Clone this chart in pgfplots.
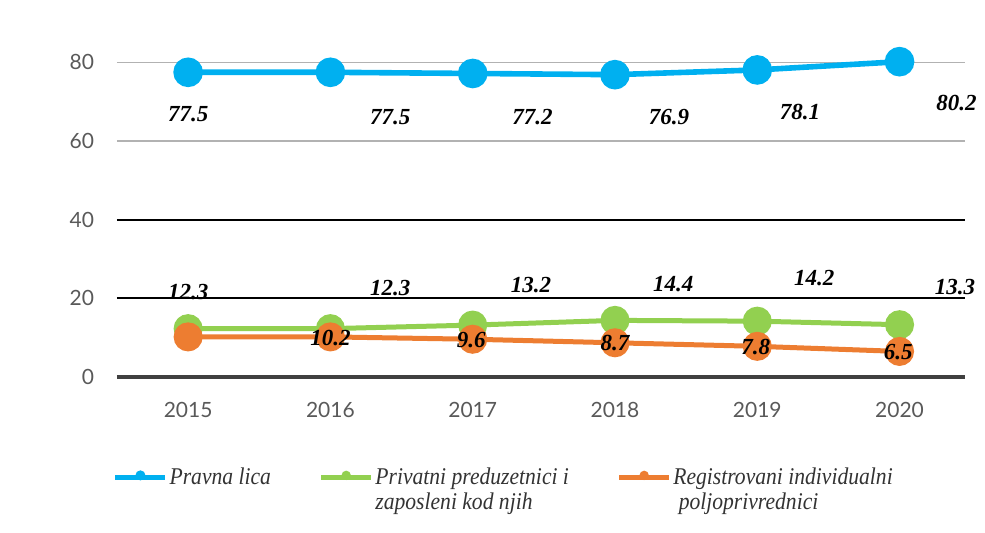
\documentclass[border=0pt]{standalone}
\usepackage{fontspec}
\usepackage{pgfplots}
\pgfplotsset{compat=1.18}
\newfontfamily\lato{Lato}
\newfontfamily\lserif{Liberation Serif}
\newfontfamily\legfont[FakeStretch=0.9]{Liberation Serif}
\definecolor{cblue}{HTML}{00B0F0}
\definecolor{cgreen}{HTML}{92D050}
\definecolor{corange}{HTML}{ED7D31}
\definecolor{tickgray}{HTML}{595959}

\begin{document}
\begin{tikzpicture}
\begin{axis}[
  scale only axis,
  width=424pt, height=173pt,
  xmin=-0.5, xmax=5.46,
  ymin=0, ymax=88,
  axis x line*=bottom,
  axis y line*=left,
  y axis line style={draw=none},
  x axis line style={-, line width=2pt, color=black!75},
  xtick={0,1,2,3,4,5},
  xticklabels={2015,2016,2017,2018,2019,2020},
  ytick={0,60,80},
  extra y ticks={20,40},
  extra y tick style={grid style={black, line width=1pt}},
  ymajorgrids,
  grid style={black!30, line width=0.8pt},
  major tick length=0pt,
  /pgf/number format/assume math mode=true,
  tick label style={font=\lato\fontsize{10.5}{12}\selectfont, text=tickgray},
  xticklabel style={yshift=-9pt},
  yticklabel style={xshift=-8pt},
  clip=false,
  legend style={at={(-0.012,-0.238)}, anchor=north west, draw=none, legend columns=3,
    font=\legfont\itshape\fontsize{12}{12.5}\selectfont, text=black!80,
    cells={align=left},
    /tikz/every odd column/.append style={column sep=-1pt},
    /tikz/every even column/.append style={column sep=22pt}},
  legend image code/.code={
    \path[draw=none, fill=none] (0pt,-6.25pt) -- (0pt,6.25pt);
    \draw[line width=2.2pt] (0pt,6.25pt) -- (25pt,6.25pt);
    \fill (12.5pt,7.35pt) circle (1pt);},
]
\addplot[cblue, line width=2.8pt, mark=*, mark size=6pt] coordinates {
  (0,77.5) (1,77.5) (2,77.2) (3,76.9) (4,78.1) (5,80.2)};
\addlegendentry{Pravna lica\\\strut}
\addplot[cgreen, line width=2.5pt, mark=*, mark size=6pt] coordinates {
  (0,12.3) (1,12.3) (2,13.2) (3,14.4) (4,14.2) (5,13.3)};
\addlegendentry{Privatni preduzetnici i\\zaposleni kod njih}
\addplot[corange, line width=2.5pt, mark=*, mark size=6pt] coordinates {
  (0,10.2) (1,10.2) (2,9.6) (3,8.7) (4,7.8) (5,6.5)};
\addlegendentry{Registrovani individualni\\\ poljoprivrednici}
% data labels, placed where the reference shows them
\pgfplotsset{lbl/.style={draw=none, mark=none, forget plot,
  nodes near coords, point meta=explicit symbolic,
  nodes near coords style={anchor=center, text=black,
    font=\lserif\bfseries\itshape\fontsize{11.5}{12}\selectfont}}}
\addplot[lbl] coordinates {
  (0.00,66.8) [77.5] (1.42,66.2) [77.5] (2.42,66.2) [77.2]
  (3.38,66.2) [76.9] (4.30,67.5) [78.1] (5.40,69.8) [80.2]};
\addplot[lbl] coordinates {
  (0.00,21.5) [12.3] (1.42,22.7) [12.3] (2.41,23.4) [13.2]
  (3.41,23.7) [14.4] (4.40,25.2) [14.2] (5.39,22.9) [13.3]};
\addplot[lbl] coordinates {
  (1.00,9.9) [10.2] (1.99,9.4) [9.6] (3.00,8.7) [8.7]
  (3.99,7.6) [7.8] (4.99,6.4) [6.5]};
\end{axis}
\path (current axis.south west) ++(-58.5pt,-78pt) rectangle ++(492.5pt,266.5pt);
\end{tikzpicture}
\end{document}
